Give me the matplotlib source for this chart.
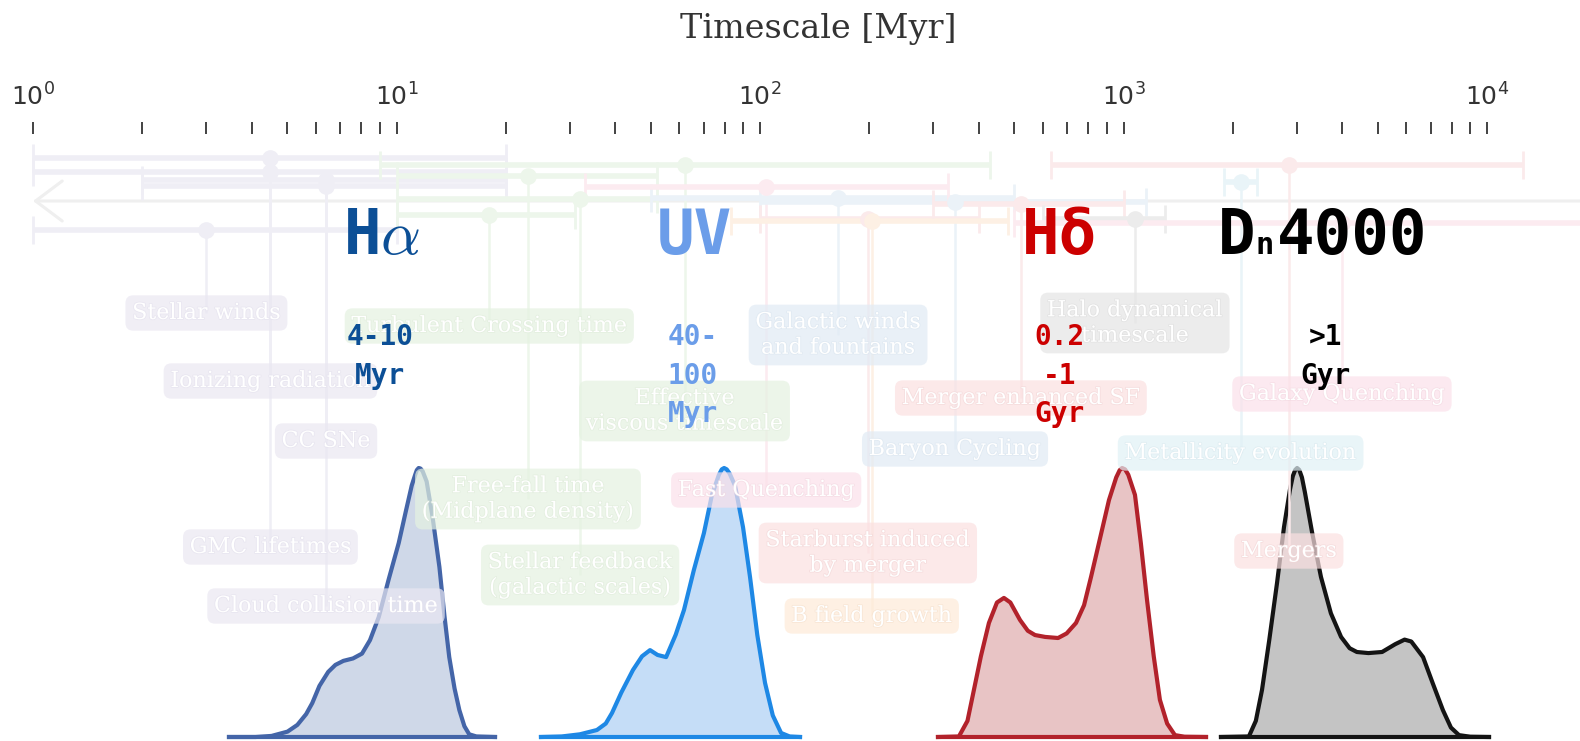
import numpy as np
import matplotlib
matplotlib.use("Agg")
import matplotlib.pyplot as plt
import matplotlib.patheffects as pe
from matplotlib.colors import to_rgb
from matplotlib.ticker import FixedLocator, NullFormatter, LogFormatterMathtext

# ---------------------------------------------------------------- data
process_names = [
    "Stellar winds", "Ionizing radiation", "GMC lifetimes", "CC SNe",
    "Cloud collision time", "Turbulent Crossing time",
    "Effective\nviscous timescale", "Free-fall time\n(Midplane density)",
    "Stellar feedback\n(galactic scales)", "Galactic winds\nand fountains",
    "Baryon Cycling", "Fast Quenching", "Starburst induced\nby merger",
    "B field growth", "Merger enhanced SF", "Halo dynamical\ntimescale",
    "Metallicity evolution", "Galaxy Quenching", "Mergers",
]
t_low = [1, 1, 1, 2, 2, 10, 9, 10, 10, 50, 100, 33, 100, 83, 300, 600, 1890, 500, 630]
t_mid = [3.0, 4.5, 4.5, 6.4, 6.4, 18, 62, 23, 32, 164, 344, 104, 198, 203, 522, 1075, 2100, 3990, 2850]
t_high = [10, 20, 20, 20, 20, 31, 430, 52, 52, 500, 1150, 330, 400, 480, 1000, 1300, 2330, 20000, 12600]
process_group = ["stellar", "stellar", "stellar", "stellar", "stellar",
                 "ism", "ism", "ism", "ism", "galactic", "galactic",
                 "quench", "merger", "bfield", "merger", "halo", "metal",
                 "quench", "merger"]

tracer_labels = ["H$\\alpha$", "UV", "H\u03b4", "Dn4000"]
tracer_ranges = [["4-10", "Myr"], ["40-", "100", "Myr"], ["0.2", "-1", "Gyr"], [">1", "Gyr"]]

# distributions (normalised position within each panel, normalised density)
ha_x = [0.00, 0.10, 0.16, 0.22, 0.257, 0.29, 0.313, 0.34, 0.373, 0.40, 0.43, 0.466, 0.50, 0.53,
        0.563, 0.60, 0.638, 0.665, 0.687, 0.70, 0.706, 0.713, 0.72, 0.728, 0.743, 0.765, 0.791,
        0.81, 0.828, 0.848, 0.866, 0.885, 0.903, 0.93, 1.00]
ha_y = [0.000, 0.000, 0.004, 0.020, 0.045, 0.085, 0.126, 0.190, 0.242, 0.268, 0.283, 0.292, 0.310,
        0.360, 0.446, 0.585, 0.721, 0.840, 0.935, 0.975, 0.992, 1.000, 0.998, 0.988, 0.950, 0.820,
        0.632, 0.450, 0.297, 0.180, 0.100, 0.040, 0.010, 0.002, 0.000]

uv_x = [0.00, 0.08, 0.15, 0.216, 0.25, 0.274, 0.31, 0.355, 0.39, 0.421, 0.45, 0.483, 0.52, 0.552,
        0.59, 0.629, 0.66, 0.687, 0.698, 0.707, 0.717, 0.728, 0.749, 0.78, 0.807, 0.835, 0.865,
        0.895, 0.927, 0.96, 1.00]
uv_y = [0.000, 0.002, 0.010, 0.026, 0.050, 0.089, 0.165, 0.249, 0.300, 0.323, 0.305, 0.297, 0.380,
        0.472, 0.620, 0.758, 0.900, 0.975, 0.995, 1.000, 0.995, 0.980, 0.935, 0.780, 0.595, 0.380,
        0.201, 0.080, 0.015, 0.002, 0.000]

hd_x = [0.00, 0.078, 0.11, 0.134, 0.16, 0.19, 0.22, 0.246, 0.27, 0.306, 0.335, 0.362, 0.40, 0.448,
        0.48, 0.515, 0.545, 0.571, 0.605, 0.638, 0.665, 0.678, 0.687, 0.698, 0.71, 0.735, 0.757,
        0.78, 0.805, 0.828, 0.855, 0.884, 0.92, 1.00]
hd_y = [0.000, 0.002, 0.060, 0.175, 0.300, 0.424, 0.500, 0.517, 0.500, 0.435, 0.395, 0.379, 0.372,
        0.368, 0.385, 0.424, 0.490, 0.595, 0.740, 0.881, 0.965, 0.992, 1.000, 0.995, 0.975, 0.900,
        0.720, 0.509, 0.300, 0.138, 0.050, 0.007, 0.001, 0.000]

dn_x = [0.00, 0.104, 0.13, 0.153, 0.18, 0.209, 0.235, 0.257, 0.268, 0.277, 0.284, 0.292, 0.302,
        0.313, 0.34, 0.373, 0.41, 0.448, 0.48, 0.507, 0.55, 0.601, 0.65, 0.685, 0.71, 0.754, 0.79,
        0.828, 0.858, 0.888, 0.93, 1.00]
dn_y = [0.000, 0.002, 0.060, 0.175, 0.360, 0.572, 0.780, 0.918, 0.970, 0.993, 1.000, 0.993, 0.965,
        0.910, 0.760, 0.595, 0.460, 0.372, 0.330, 0.316, 0.312, 0.316, 0.345, 0.362, 0.355, 0.297,
        0.200, 0.100, 0.035, 0.007, 0.001, 0.000]

# ---------------------------------------------------------------- layout / style
W, H = 1580, 741
PX_PER_DEC = 363.5
X0 = 33
TOP = 134

bar_row = [230, 158, 172, 180, 186, 215, 165, 176, 199, 198, 202, 187, 219, 221, 204, 219, 182, 223, 165]
label_row = [313, 381, 547, 441, 606, 326, 411, 499, 575, 335, 449, 490, 553, 616, 398, 323, 453, 394, 551]

# (box colour as seen on white, bar/line colour, faint text halo)
palette = {
    "stellar": ("#f0eef6", "#efeef5", "#e4e1ee"),
    "ism": ("#edf6ea", "#edf6eb", "#dfecda"),
    "galactic": ("#eaf1f8", "#ebf2f8", "#dbe6f0"),
    "quench": ("#fceaf0", "#fcebf0", "#f3d8e1"),
    "merger": ("#fce9ea", "#fbeaeb", "#f2d6d7"),
    "bfield": ("#fef1e4", "#fdf0e4", "#f5e0cc"),
    "halo": ("#ededed", "#ececec", "#dddddd"),
    "metal": ("#eaf5f9", "#e9f4f8", "#d9e9ef"),
}
BOX_ALPHA = 0.7


def box_rgba(target):
    r = np.array(to_rgb(target))
    base = np.clip(1 - (1 - r) / BOX_ALPHA, 0, 1)
    return (*base, BOX_ALPHA)


fig = plt.figure(figsize=(W / 100, H / 100), dpi=100)
fig.patch.set_facecolor("white")


def fx(px):
    return px / W


def fy(py):
    return 1 - py / H


# ---------------------------------------------------------------- main timeline axis
ax = fig.add_axes([0, 0, 1, 1 - TOP / H])
ax.set_zorder(2)
ax.patch.set_visible(False)
ax.set_xscale("log")
ax.set_xlim(10 ** (-X0 / PX_PER_DEC), 10 ** ((W - X0) / PX_PER_DEC))
ax.set_ylim(H, TOP)
for s in ax.spines.values():
    s.set_visible(False)
ax.xaxis.tick_top()
ax.xaxis.set_major_locator(FixedLocator([1, 10, 100, 1000, 10000]))
ax.xaxis.set_major_formatter(LogFormatterMathtext())
minor = [m * 10 ** e for e in range(4) for m in range(2, 10)]
ax.xaxis.set_minor_locator(FixedLocator(minor))
ax.xaxis.set_minor_formatter(NullFormatter())
ax.tick_params(axis="x", which="both", direction="out", length=9, width=1.2,
               color="#222222", top=True, bottom=False, labeltop=True,
               labelbottom=False, pad=8, labelsize=18, labelcolor="#333333")
ax.set_yticks([])

fig.text(fx(818), fy(38), "Timescale [Myr]", ha="center", va="baseline",
         fontsize=24, family="DejaVu Serif", color="#333333")

# arrow across the timeline
ax.annotate("", xy=(1.0, 201), xytext=(ax.get_xlim()[1] * 1.5, 201),
            arrowprops=dict(arrowstyle="->,head_length=0.6,head_width=0.45",
                            color="#efefef", lw=2.2, mutation_scale=32,
                            shrinkA=0, shrinkB=0),
            annotation_clip=False, zorder=1)

for i, name in enumerate(process_names):
    box_c, bar_c, stroke_c = palette[process_group[i]]
    ax.vlines(t_mid[i], bar_row[i], label_row[i], color=bar_c, lw=1.8, zorder=1)
    ax.errorbar(t_mid[i], bar_row[i],
                xerr=[[t_mid[i] - t_low[i]], [t_high[i] - t_mid[i]]],
                fmt="o", ms=12, mfc=bar_c, mec="none", ecolor=bar_c,
                elinewidth=4, capsize=10, capthick=2, zorder=2)
    ax.text(t_mid[i], label_row[i], name, ha="center", va="center",
            multialignment="center", fontsize=16, family="DejaVu Serif",
            color="white", zorder=4,
            bbox=dict(boxstyle="round,pad=0.3,rounding_size=0.35",
                      fc=box_rgba(box_c), ec="none"),
            path_effects=[pe.withStroke(linewidth=1.2, foreground=stroke_c, alpha=0.6)])

# ---------------------------------------------------------------- distributions
panels = [
    (ha_x, ha_y, 229, 495, "#4465a8", "#cfd8e8"),
    (uv_x, uv_y, 541, 800, "#1e88e5", "#c5ddf7"),
    (hd_x, hd_y, 938, 1206, "#b2222b", "#e8c4c5"),
    (dn_x, dn_y, 1221, 1489, "#141414", "#c4c4c4"),
]
for xs, ys, p0, p1, lc, fc in panels:
    a = fig.add_axes([fx(p0), fy(737), (p1 - p0) / W, 269 / H])
    a.set_zorder(1)
    a.set_xlim(0, 1)
    a.set_ylim(0, 1)
    a.axis("off")
    a.fill_between(xs, ys, 0, color=fc, lw=0)
    a.plot(xs, ys, color=lc, lw=3.0, clip_on=False, solid_joinstyle="round")
    a.plot([0, 1], [0, 0], color=lc, lw=3.0, clip_on=False)

# ---------------------------------------------------------------- tracer labels
MONO = "DejaVu Sans Mono"
tracer_colors = ["#0c4f96", "#6b9de9", "#cc0000", "#000000"]
big_x = [382, 694, 1060, None]
sub_x = [380, 693, 1060, 1325]
BIG = 45
SUB = 20
for k in range(3):
    fig.text(fx(big_x[k]), fy(254), tracer_labels[k], ha="center", va="baseline",
             fontsize=BIG, family=MONO, weight="bold", color=tracer_colors[k],
             math_fontfamily="cm", zorder=10)
# Dn4000 with a small n
lab = tracer_labels[3]
x_start = 1218
adv_big = 0.602 * BIG * 100 / 72
adv_small = 0.602 * 22 * 100 / 72
fig.text(fx(x_start), fy(254), lab[0], ha="left", va="baseline", fontsize=BIG,
         family=MONO, weight="bold", color=tracer_colors[3], zorder=10)
fig.text(fx(x_start + adv_big), fy(254), lab[1], ha="left", va="baseline", fontsize=22,
         family=MONO, weight="bold", color=tracer_colors[3], zorder=10)
fig.text(fx(x_start + adv_big + adv_small + 3), fy(254), lab[2:], ha="left", va="baseline",
         fontsize=BIG, family=MONO, weight="bold", color=tracer_colors[3], zorder=10)

for k, lines in enumerate(tracer_ranges):
    for j, line in enumerate(lines):
        fig.text(fx(sub_x[k]), fy(345 + 38.5 * j), line, ha="center", va="baseline",
                 fontsize=SUB, family=MONO, weight="bold", color=tracer_colors[k],
                 zorder=10)

fig.savefig("out.png", dpi=100, facecolor="white")
